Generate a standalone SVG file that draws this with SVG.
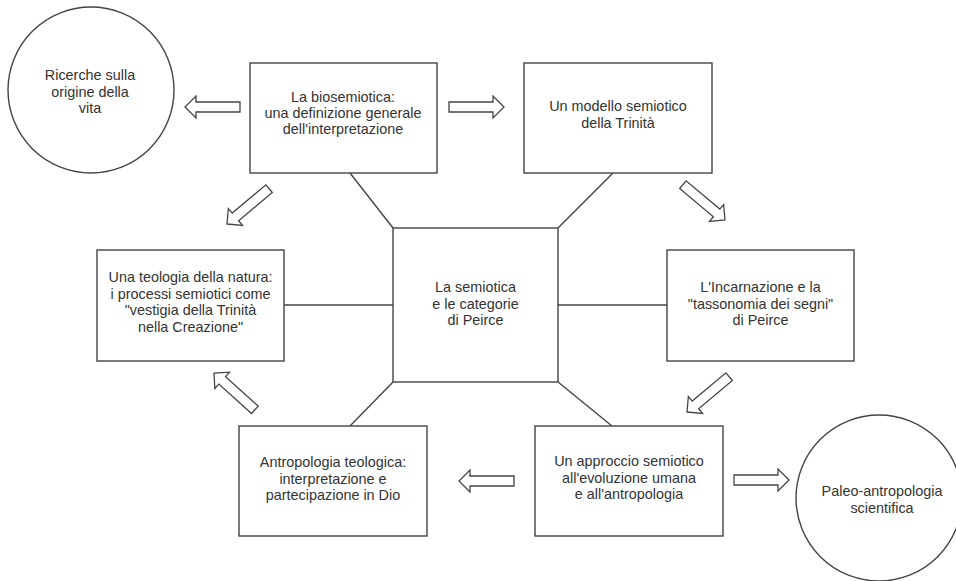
<svg xmlns="http://www.w3.org/2000/svg" width="956" height="581" viewBox="0 0 956 581">
<style>
.shape{fill:#fff;stroke:#444;stroke-width:1.4}
.line{fill:none;stroke:#444;stroke-width:1.4}
.arr{fill:#fff;stroke:#444;stroke-width:1.3;stroke-linejoin:miter}
text{font-family:"Liberation Sans",Arial,sans-serif;font-size:14.4px;fill:#333;text-anchor:middle}
</style>
<defs>
<path id="barrow" d="M0,0 L-11,-11 L-11,-5 L-55,-5 L-55,5 L-11,5 L-11,11 Z"/>
</defs>
<rect width="956" height="581" fill="#fff"/>
<g id="connectors">
<line class="line" x1="350" y1="173" x2="393" y2="228"/>
<line class="line" x1="613" y1="173" x2="558" y2="228"/>
<line class="line" x1="284" y1="305" x2="393" y2="305"/>
<line class="line" x1="558" y1="305" x2="667" y2="305"/>
<line class="line" x1="393" y1="382" x2="350" y2="426"/>
<line class="line" x1="558" y1="382" x2="612" y2="426"/>
<use href="#barrow" class="arr" transform="translate(185,107) rotate(180)"/>
<use href="#barrow" class="arr" transform="translate(504,107)"/>
<use href="#barrow" class="arr" transform="translate(227,224) rotate(140)"/>
<use href="#barrow" class="arr" transform="translate(725,220) rotate(40)"/>
<use href="#barrow" class="arr" transform="translate(687,412) rotate(140)"/>
<use href="#barrow" class="arr" transform="translate(214,373) rotate(222)"/>
<use href="#barrow" class="arr" transform="translate(459,481) rotate(180)"/>
<use href="#barrow" class="arr" transform="translate(789,480)"/>
</g>
<g id="ricerche">
<circle class="shape" cx="91" cy="90" r="83"/>
<text x="90" y="80">Ricerche sulla</text>
<text x="90" y="96.5">origine della</text>
<text x="90" y="113">vita</text>
</g>
<g id="biosemiotica">
<rect class="shape" x="250" y="63" width="187" height="110"/>
<text x="343" y="101.5">La biosemiotica:</text>
<text x="343" y="117.5">una definizione generale</text>
<text x="343" y="133.5">dell'interpretazione</text>
</g>
<g id="trinita">
<rect class="shape" x="524" y="63" width="188" height="110"/>
<text x="618" y="111">Un modello semiotico</text>
<text x="618" y="128">della Trinità</text>
</g>
<g id="teologia">
<rect class="shape" x="97" y="250" width="187" height="111"/>
<text x="190.5" y="282">Una teologia della natura:</text>
<text x="190.5" y="298.5">i processi semiotici come</text>
<text x="190.5" y="315">"vestigia della Trinità</text>
<text x="190.5" y="331.5">nella Creazione"</text>
</g>
<g id="semiotica">
<rect class="shape" x="393" y="228" width="165" height="154"/>
<text x="475.5" y="292">La semiotica</text>
<text x="475.5" y="308.5">e le categorie</text>
<text x="475.5" y="325">di Peirce</text>
</g>
<g id="incarnazione">
<rect class="shape" x="667" y="250" width="187" height="111"/>
<text x="760.5" y="292">L'Incarnazione e la</text>
<text x="760.5" y="308.5">"tassonomia dei segni"</text>
<text x="760.5" y="325">di Peirce</text>
</g>
<g id="antropologia">
<rect class="shape" x="239" y="426" width="188" height="110"/>
<text x="333" y="467">Antropologia teologica:</text>
<text x="333" y="483.5">interpretazione e</text>
<text x="333" y="500">partecipazione in Dio</text>
</g>
<g id="approccio">
<rect class="shape" x="535" y="426" width="188" height="110"/>
<text x="629" y="466">Un approccio semiotico</text>
<text x="629" y="482.5">all'evoluzione umana</text>
<text x="629" y="499">e all'antropologia</text>
</g>
<g id="paleo">
<circle class="shape" cx="879" cy="498" r="83"/>
<text x="882" y="496">Paleo-antropologia</text>
<text x="882" y="512.5">scientifica</text>
</g>
</svg>
